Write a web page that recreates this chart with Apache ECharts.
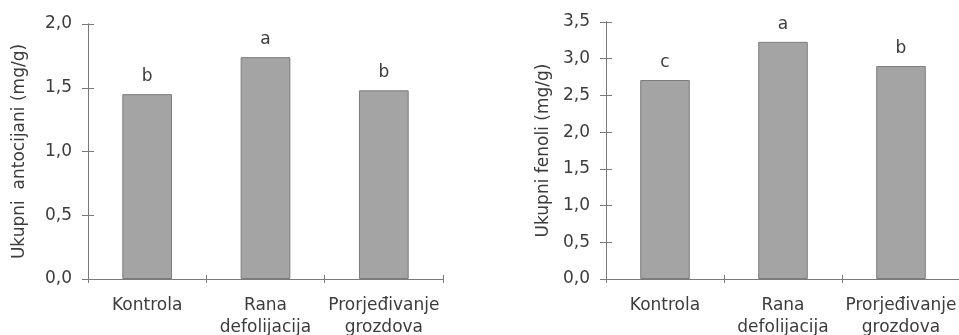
<!DOCTYPE html>
<html><head><meta charset="utf-8">
<script src="https://cdn.jsdelivr.net/npm/echarts@6/dist/echarts.min.js"></script>
<style>html,body{margin:0;padding:0;background:#fff}#c{width:959px;height:335px}</style>
</head><body><div id="c"></div>
<script>
var categories = ['Kontrola', 'Rana\ndefolijacija', 'Prorjeđivanje\ngrozdova'];
var antocijani = [1.45, 1.74, 1.48];
var antocijaniLetters = ['b', 'a', 'b'];
var fenoli = [2.71, 3.23, 2.90];
var fenoliLetters = ['c', 'a', 'b'];
var leftTicks = { min: 0, max: 2.0, interval: 0.5 };
var rightTicks = { min: 0, max: 3.5, interval: 0.5 };
var leftTitle = 'Ukupni  antocijani (mg/g)';
var rightTitle = 'Ukupni fenoli (mg/g)';

var FONT = 'DejaVu Sans, Liberation Sans, Arial, sans-serif';
var FS = 17;
var TXT = '#3c3c3c';
var AX = '#7a7a7a';
function fmt(v){ return v.toFixed(1).replace('.', ','); }

function xAx(gi, inside){
  return {
    type: 'category', gridIndex: gi, position: 'bottom', data: categories, boundaryGap: true,
    axisLine: { show: true, onZero: false, lineStyle: { color: AX, width: 1 } },
    axisTick: { show: true, inside: inside, length: 4, lineStyle: { color: AX } },
    axisLabel: { show: !inside, color: TXT, fontFamily: FONT, fontSize: FS, lineHeight: 22, margin: 16, interval: 0 }
  };
}
function yAx(gi, t, name, gap, inside){
  return {
    type: 'value', gridIndex: gi, position: 'left', offset: 0, min: t.min, max: t.max, interval: t.interval,
    name: inside ? '' : name, nameLocation: 'middle', nameGap: gap, nameRotate: 90,
    nameTextStyle: { color: TXT, fontFamily: FONT, fontSize: FS },
    axisLine: { show: true, onZero: false, lineStyle: { color: AX, width: 1 } },
    axisTick: { show: true, inside: inside, length: 6, lineStyle: { color: AX } },
    axisLabel: { show: !inside, color: TXT, fontFamily: FONT, fontSize: FS, margin: 16, formatter: fmt },
    splitLine: { show: false }
  };
}
function barSeries(xi, yi, data, letters){
  return {
    type: 'bar', xAxisIndex: xi, yAxisIndex: yi, data: data, barWidth: '42%',
    itemStyle: { color: '#a4a4a4', borderColor: '#7c7c7c', borderWidth: 1 },
    label: { show: true, position: 'top', distance: 9, color: TXT, fontFamily: FONT, fontSize: FS,
      formatter: function(p){ return letters[p.dataIndex]; } },
    animation: false
  };
}
function ghostSeries(xi, yi){
  return { type: 'bar', xAxisIndex: xi, yAxisIndex: yi, data: [], silent: true, animation: false };
}

var chart = echarts.init(document.getElementById('c'), null, { renderer: 'canvas' });
chart.setOption({
  backgroundColor: '#fff',
  animation: false,
  grid: [
    { left: 88, top: 24, width: 355, height: 255, containLabel: false, outerBoundsMode: 'none' },
    { left: 606, top: 22, width: 354, height: 257, containLabel: false, outerBoundsMode: 'none' }
  ],
  xAxis: [xAx(0, false), xAx(0, true), xAx(1, false), xAx(1, true)],
  yAxis: [yAx(0, leftTicks, leftTitle, 60, false), yAx(0, leftTicks, '', 60, true),
          yAx(1, rightTicks, rightTitle, 54, false), yAx(1, rightTicks, '', 54, true)],
  series: [
    barSeries(0, 0, antocijani, antocijaniLetters),
    barSeries(2, 2, fenoli, fenoliLetters),
    ghostSeries(1, 1),
    ghostSeries(3, 3)
  ]
});
</script></body></html>
